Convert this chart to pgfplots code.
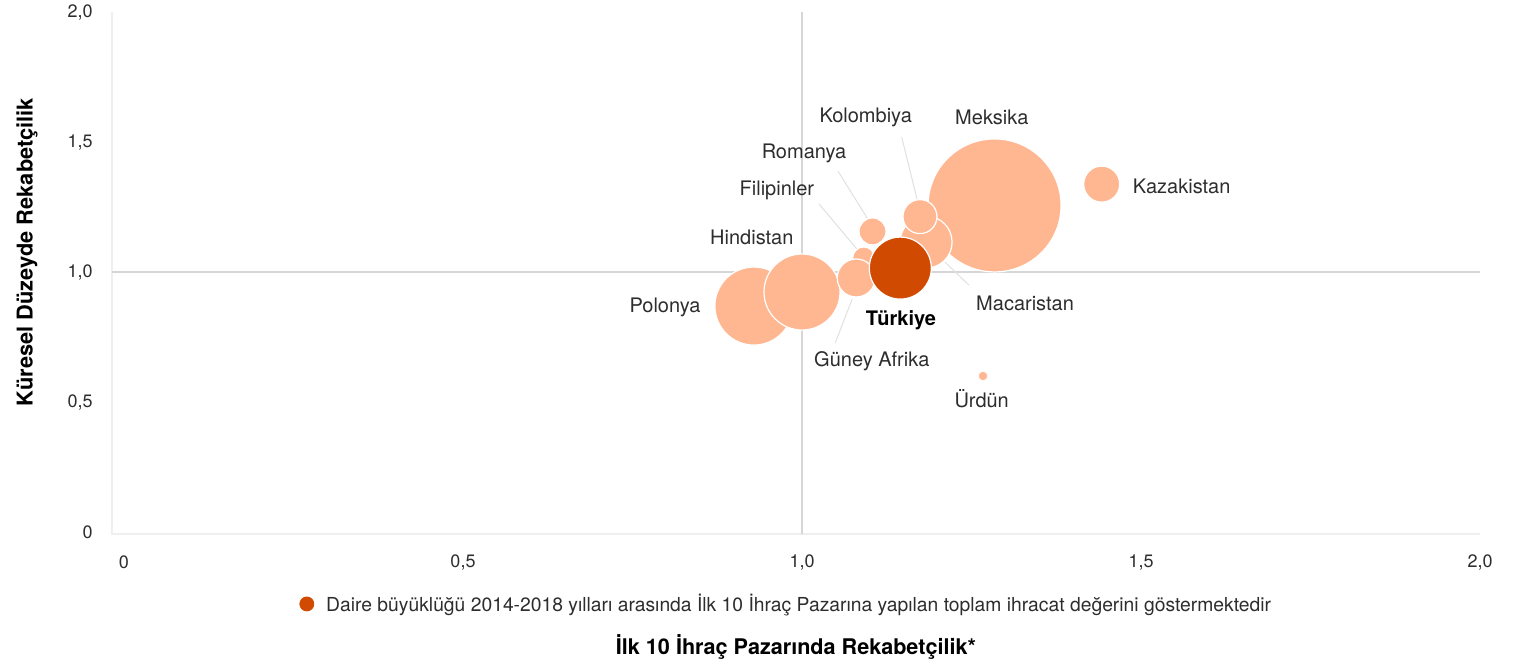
\documentclass[border=0pt]{standalone}
\usepackage{pgfplots}
\pgfplotsset{compat=1.18}
\usepackage{pgfplotstable}
\usepackage{fontspec}
\setmainfont{TeX Gyre Heros}
\definecolor{peach}{HTML}{FFB791}
\definecolor{pwcorange}{HTML}{D04A02}
\definecolor{txt}{HTML}{2D2D2D}
\definecolor{gridc}{HTML}{D6D6D6}
\definecolor{framec}{HTML}{EFEFEF}
\definecolor{leadc}{HTML}{E0E0E0}

% x y radius(pt): Meksika, Polonya, Hindistan, Filipinler, Guney Afrika, Macaristan, Kolombiya, Romanya, Kazakistan, Urdun
\pgfplotstableread{
x y r
1.284 1.256 33.25
0.929 0.869 19.5
1.000 0.923 19
1.091 1.054 5.5
1.080 0.977 9.5
1.183 1.115 13
1.174 1.213 8.5
1.104 1.156 6.75
1.442 1.338 9
1.267 0.600 2.5
}\bubbles
\pgfplotstableread{
x y r
1.145 1.015 15.5
}\turkiye

\begin{document}
\begin{tikzpicture}[font=\fontsize{10pt}{12pt}\selectfont, text=txt]
\begin{axis}[
  scale only axis, width=684pt, height=261pt,
  xmin=-0.0177, xmax=2, ymin=-0.0077, ymax=2,
  axis line style={draw=none},
  xtick={0,0.5,1,1.5,2}, xticklabels={0,{0,5},{1,0},{1,5},{2,0}},
  ytick={0,0.5,1,1.5,2}, yticklabels={0,{0,5},{1,0},{1,5},{2,0}},
  major tick length=0pt,
  tick label style={font=\fontsize{9pt}{11pt}\selectfont, text=txt},
  xticklabel style={anchor=center, yshift=-14pt},
  yticklabel style={anchor=east, inner sep=0pt, xshift=-9.5pt},
  clip=false,
  legend style={draw=none, fill=none, inner sep=0pt, column sep=4pt,
    at={(axis description cs:0.1367,-0.134)}, anchor=west,
    font=\fontsize{9.65pt}{11pt}\selectfont},
]
\addlegendimage{legend image code/.code={\fill[pwcorange] (3.5pt,0pt) circle (3.5pt);}}
\addlegendentry{Daire büyüklüğü 2014-2018 yılları arasında İlk 10 İhraç Pazarına yapılan toplam ihracat değerini göstermektedir}

% frame and reference lines
\draw[framec, line width=0.6pt] (rel axis cs:0,1) -- (rel axis cs:0,0) -- (rel axis cs:1,0);
\draw[gridc, line width=0.6pt] (axis cs:1,-0.0077) -- (axis cs:1,2);
\draw[gridc, line width=0.6pt] (axis cs:-0.0177,1) -- (axis cs:2,1);

% leader lines
\draw[leadc, line width=0.5pt] (axis cs:1.147,1.519) -- (axis cs:1.170,1.277);
\draw[leadc, line width=0.5pt] (axis cs:1.053,1.388) -- (axis cs:1.096,1.208);
\draw[leadc, line width=0.5pt] (axis cs:1.025,1.262) -- (axis cs:1.081,1.088);
\draw[leadc, line width=0.5pt] (axis cs:1.049,0.727) -- (axis cs:1.074,0.896);
\draw[leadc, line width=0.5pt] (axis cs:1.246,0.950) -- (axis cs:1.211,1.038);

\addplot[forget plot, scatter, only marks, mark=*,
  scatter/use mapped color={draw=white, fill=peach},
  visualization depends on={\thisrow{r}\as\rad},
  scatter/@pre marker code/.append style={/tikz/mark size=\rad},
  mark options={line width=0.6pt}]
  table[x=x, y=y] {\bubbles};
\addplot[forget plot, scatter, only marks, mark=*,
  scatter/use mapped color={draw=white, fill=pwcorange},
  visualization depends on={\thisrow{r}\as\rad},
  scatter/@pre marker code/.append style={/tikz/mark size=\rad},
  mark options={line width=0.6pt}]
  table[x=x, y=y] {\turkiye};

% data labels
\node at (axis cs:1.094,1.596) {Kolombiya};
\node at (axis cs:1.280,1.596) {Meksika};
\node at (axis cs:1.003,1.458) {Romanya};
\node at (axis cs:0.963,1.312) {Filipinler};
\node at (axis cs:0.926,1.135) {Hindistan};
\node at (axis cs:0.798,0.865) {Polonya};
\node[font=\bfseries\fontsize{10pt}{12pt}\selectfont, text=black] at (axis cs:1.146,0.815) {Türkiye};
\node at (axis cs:1.103,0.658) {Güney Afrika};
\node at (axis cs:1.329,0.881) {Macaristan};
\node at (axis cs:1.560,1.331) {Kazakistan};
\node at (axis cs:1.265,0.512) {Ürdün};
\end{axis}
\node[font=\bfseries\fontsize{10.8pt}{12pt}\selectfont, text=black] at (342pt,-56.5pt) {İlk 10 İhraç Pazarında Rekabetçilik*};
\node[rotate=90, font=\bfseries\fontsize{10.9pt}{12pt}\selectfont, text=black] at (-42.5pt,141pt) {Küresel Düzeyde Rekabetçilik};
\path (-56pt,-63.5pt) rectangle (706pt,267pt);
\end{tikzpicture}
\end{document}
